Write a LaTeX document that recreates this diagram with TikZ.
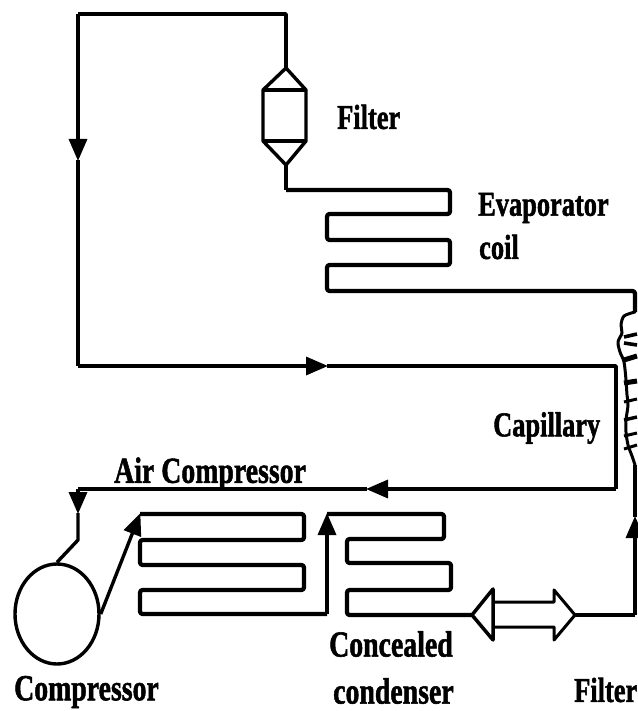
\documentclass[tikz,border=0pt]{standalone}
\usepackage{fontspec}
\usepackage{graphicx}
\setmainfont{Liberation Serif}[BoldFeatures={FakeBold=1.6}]
\usetikzlibrary{arrows.meta,shapes.geometric}
\newcommand{\tallbf}[1]{\scalebox{1}[1.32]{\bfseries #1}}
\begin{document}
\begin{tikzpicture}[
  x=1pt, y=-1pt,
  line join=round,
  lbl/.style={inner sep=0pt, font=\fontsize{26.4}{30}\selectfont},
  lblwide/.style={inner sep=0pt, font=\fontsize{27.8}{30}\selectfont},
  pipe/.style={draw, line width=3.4pt},
  coilpipe/.style={draw, line width=4.2pt, rounded corners=2.5pt},
  arrow/.style={-{Triangle[length=22pt, width=18pt]}, line width=3.4pt, shorten >=-1pt},
  wiggle/.style={line width=3pt, line cap=round}
]
\useasboundingbox (0,0) rectangle (637,711);
% main return loop
\coordinate (t1) at (78,14);
\coordinate (t2) at (286,14);
\coordinate (l1) at (78,160);
\coordinate (l2) at (78,366);
\coordinate (m1) at (327,366);
\coordinate (m2) at (616,366);
\coordinate (m3) at (616,489);
\coordinate (a1) at (367,489);
\coordinate (a2) at (78,489);
\coordinate (a3) at (78,513);
\coordinate (a4) at (78,540);
% top filter
\coordinate (f1) at (286,68);
\coordinate (f2) at (306,90);
\coordinate (f3) at (306,141);
\coordinate (f4) at (286,165);
\coordinate (f5) at (263,141);
\coordinate (f6) at (263,90);
% evaporator
\coordinate (e0) at (286,190);
\coordinate (e1) at (450,190);
\coordinate (e2) at (450,214);
\coordinate (e3) at (327,214);
\coordinate (e4) at (327,240);
\coordinate (e5) at (450,240);
\coordinate (e6) at (450,265);
\coordinate (e7) at (327,265);
\coordinate (e8) at (327,291);
\coordinate (e9) at (635,291);
% capillary
\coordinate (c0) at (635,312);
\coordinate (c1) at (635,465);
\coordinate (c2) at (635,517);
\coordinate (c3) at (635,615);
% concealed condenser
\coordinate (d0) at (472,615);
\coordinate (d1) at (347,615);
\coordinate (d2) at (347,590);
\coordinate (d3) at (451,590);
\coordinate (d4) at (451,563);
\coordinate (d5) at (347,563);
\coordinate (d6) at (347,539);
\coordinate (d7) at (444,539);
\coordinate (d8) at (444,514);
\coordinate (d9) at (327,514);
\coordinate (d11) at (327,614);
% air compressor coil
\coordinate (g1) at (140,614);
\coordinate (g2) at (140,590);
\coordinate (g3) at (304,590);
\coordinate (g4) at (304,565);
\coordinate (g5) at (140,565);
\coordinate (g6) at (140,540);
\coordinate (g7) at (304,540);
\coordinate (g8) at (304,514);
\coordinate (g9) at (140,514);

\node[draw, ellipse, line width=3.4pt, minimum width=84pt, minimum height=100pt, inner sep=0pt] (comp) at (57,614) {};

\draw[arrow] (t1) -- (l1);
\draw[pipe] (l1) -- (l2);
\draw[pipe] (t1) -- (t2) -- (f1);
\draw[arrow] (l2) -- (m1);
\draw[pipe] (m1) -- (m2) -- (m3);
\draw[arrow] (m3) -- (a1);
\draw[pipe] (a1) -- (a2);
\draw[arrow] (a2) -- (a3);
\draw[pipe] (a3) -- (a4) -- (comp.north);
\draw[arrow] (comp.east) -- (g9);

\draw[pipe] (f1) -- (f2) -- (f3) -- (f4) -- (f5) -- (f6) -- cycle;
\draw[pipe] (f6) -- (f2);
\draw[pipe] (f5) -- (f3);
\draw[pipe] (f4) -- (e0);
\draw[coilpipe] (e0) -- (e1) -- (e2) -- (e3) -- (e4) -- (e5) -- (e6) -- (e7) -- (e8) -- (e9) -- (c0);

% capillary wound around the return line
\draw[wiggle] plot[smooth] coordinates {(c0) (624,316) (621,325) (622,333) (618,342) (620,352) (624,362) (626,380) (627,395) (628,405) (626,420) (626,432) (628,445) (632,456) (c1)};
\foreach \ya/\yb/\wd in {337/334/3.6, 343/345/3.6, 360/356/5, 383/381/5, 402/399/3, 420/417/3.4, 436/433/3, 449/445/3}
  \draw[line width=\wd pt] (624,\ya) -- (637,\yb);
\draw[pipe] (c1) -- (c2);
\draw[arrow] (c3) -- (c2);

% double arrow filter
\draw[pipe] (c3) -- (575,615);
\draw[line width=3pt] (575,615) -- (554,590) -- (554,602) -- (493,602) (493,627) -- (554,627) -- (554,640) -- (575,615);
\draw[line width=3.5pt] (493,589) -- (472,615) -- (493,640) -- cycle;

\draw[coilpipe] (d0) -- (d1) -- (d2) -- (d3) -- (d4) -- (d5) -- (d6) -- (d7) -- (d8) -- (d9);
\draw[arrow] (d11) -- (d9);
\draw[coilpipe] (d11) -- (g1) -- (g2) -- (g3) -- (g4) -- (g5) -- (g6) -- (g7) -- (g8) -- (g9);

\node[lbl, anchor=west] (filtertop) at (337,117) {\tallbf{Filter}};
\node[lbl, anchor=west] (evap) at (478,208) {\tallbf{Evaporator}};
\node[lbl, anchor=west] (coil) at (479,247) {\tallbf{coil}};
\node[lbl, anchor=west] (cap) at (493,428) {\tallbf{Capillary}};
\node[lblwide, anchor=west] (aircomp) at (114,474) {\tallbf{Air Compressor}};
\node[lblwide, anchor=west] (conc) at (329,644) {\tallbf{Concealed}};
\node[lblwide, anchor=west] (cond) at (333,691) {\tallbf{condenser}};
\node[lbl, anchor=west] (filterbot) at (574,690) {\tallbf{Filter}};
\node[lblwide, anchor=west] (comptxt) at (14,692) {\tallbf{Compressor}};
\end{tikzpicture}
\end{document}
